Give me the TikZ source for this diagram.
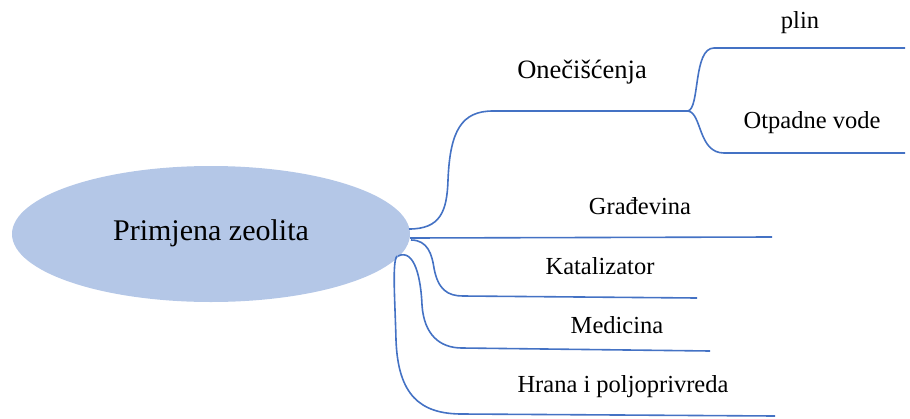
\documentclass[tikz,border=0pt]{standalone}
\usepackage{fontspec}
\setmainfont{Liberation Serif}
\usetikzlibrary{shapes.geometric}
\begin{document}
\begin{tikzpicture}[x=1pt,y=-1pt,
  br/.style={draw=brline,line width=1.6pt},
  lbl/.style={anchor=base,inner sep=0pt,font=\fontsize{24.5}{28}\selectfont},
]
\definecolor{brline}{HTML}{4472C4}
\definecolor{ellfill}{HTML}{B4C7E7}
\useasboundingbox (0,0) rectangle (910,418);
\node[ellipse,fill=ellfill,minimum width=398pt,minimum height=136pt,inner sep=0pt] (root) at (211,234) {};
\node[anchor=base,inner sep=0pt,font=\fontsize{30}{34}\selectfont] (rootlbl) at (211,240) {Primjena zeolita};
% labels
\node[lbl,font=\fontsize{26.5}{30}\selectfont] (onec) at (582,78) {Onečišćenja};
\node[lbl] (plin) at (800,28) {plin};
\node[lbl] (otp) at (812,128) {Otpadne vode};
\node[lbl] (grad) at (640,214) {Građevina};
\node[lbl] (kat) at (600,274) {Katalizator};
\node[lbl] (med) at (617,333) {Medicina};
\node[lbl] (hra) at (623,392) {Hrana i poljoprivreda};
% coordinates
\coordinate (s1) at (409,229);
\coordinate (j1) at (493,111);
\coordinate (jn) at (688,111);
\coordinate (e1a) at (905,48);
\coordinate (e1b) at (905,153);
\coordinate (s2) at (410,238);
\coordinate (e2) at (772,237);
\coordinate (s3) at (411,240);
\coordinate (e3) at (697,298);
\coordinate (s4) at (398,256);
\coordinate (e4) at (710,351);
\coordinate (s5) at (397,256);
\coordinate (e5) at (775,416);
% branches
\draw[br] (s1) .. controls (440,229) and (447,212) .. (448,180) .. controls (450,130) and (462,111) .. (j1) -- (jn);
\draw[br] (jn) .. controls (700,108) and (693,48) .. (714,48) -- (e1a);
\draw[br] (jn) .. controls (702,113) and (698,153) .. (724,153) -- (e1b);
\draw[br] (s2) -- (e2);
\draw[br] (s3) .. controls (428,240) and (432,255) .. (434,268) .. controls (438,290) and (448,296) .. (463,296) -- (e3);
\draw[br] (s4) .. controls (415,248) and (421,280) .. (422,305) .. controls (424,335) and (440,348) .. (462,348) -- (e4);
\draw[br] (s5) .. controls (392,262) and (395,300) .. (396,340) .. controls (398,395) and (420,414) .. (462,414) -- (e5);
\end{tikzpicture}
\end{document}
